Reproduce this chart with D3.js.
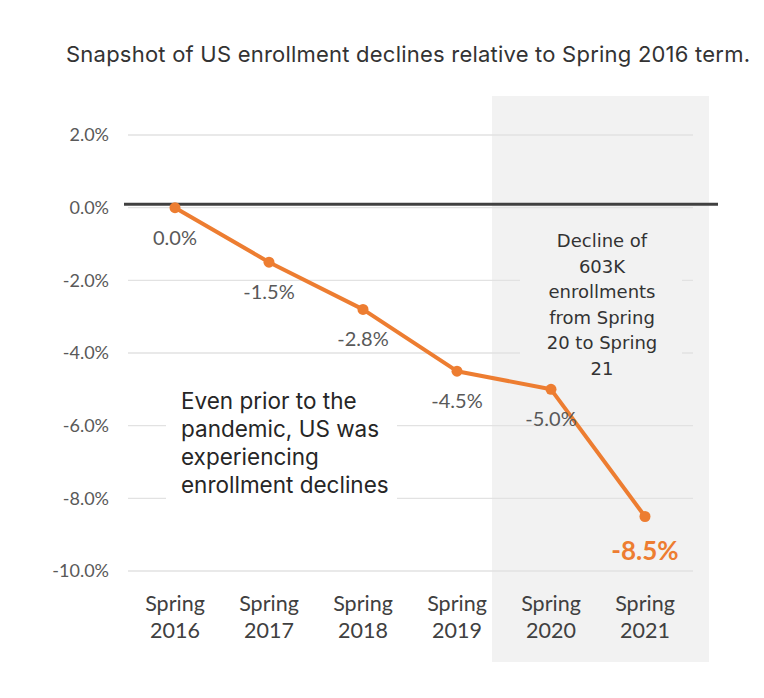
<!DOCTYPE html>
<html>
<head>
<meta charset="utf-8">
<script src="https://cdn.jsdelivr.net/npm/d3@7"></script>
<style>
  body { margin: 0; background: #fff; }
  svg { display: block; }
</style>
</head>
<body>
<svg id="chart"></svg>
<script>
const categories = ['Spring 2016', 'Spring 2017', 'Spring 2018', 'Spring 2019', 'Spring 2020', 'Spring 2021'];
const values = [0.0, -1.5, -2.8, -4.5, -5.0, -8.5];
const yTicks = [2, 0, -2, -4, -6, -8, -10];
const title = 'Snapshot of US enrollment declines relative to Spring 2016 term.';
const noteLeft = ['Even prior to the', 'pandemic, US was', 'experiencing', 'enrollment declines'];
const noteRight = ['Decline of', '603K', 'enrollments', 'from Spring', '20 to Spring', '21'];

const width = 764;
const height = 698;
const orange = '#ED7D31';

const svg = d3.select('#chart').attr('width', width).attr('height', height);

const x = d3.scalePoint().domain(categories).range([175, 645]);
const y = d3.scaleLinear().domain([-10, 2]).range([571, 135]);

// shaded pandemic area
svg.append('rect')
  .attr('x', x('Spring 2020') - 59)
  .attr('y', 96)
  .attr('width', x('Spring 2021') - x('Spring 2020') + 123)
  .attr('height', 566)
  .attr('fill', '#f2f2f2');

// gridlines
svg.append('g')
  .selectAll('line')
  .data(yTicks)
  .enter()
  .append('line')
  .attr('x1', 128)
  .attr('x2', 693)
  .attr('y1', (d) => y(d))
  .attr('y2', (d) => y(d))
  .attr('stroke', '#e2e2e2')
  .attr('stroke-width', 1.3);

// y tick labels
svg.append('g')
  .selectAll('text')
  .data(yTicks)
  .enter()
  .append('text')
  .attr('x', 109)
  .attr('y', (d) => y(d))
  .attr('dy', '0.35em')
  .attr('text-anchor', 'end')
  .style('font-family', 'Lato, "Open Sans", sans-serif')
  .style('font-size', '18px')
  .style('fill', '#595959')
  .text((d) => d.toFixed(1) + '%');

// note boxes (cover gridlines)
svg.append('rect')
  .attr('x', 166).attr('y', 385).attr('width', 231).attr('height', 115)
  .attr('fill', '#fff');
svg.append('rect')
  .attr('x', 520).attr('y', 225).attr('width', 162).attr('height', 156)
  .attr('fill', '#f2f2f2');

// zero reference line
svg.append('line')
  .attr('x1', 124)
  .attr('x2', 718)
  .attr('y1', y(0) - 3.5)
  .attr('y2', y(0) - 3.5)
  .attr('stroke', '#404040')
  .attr('stroke-width', 3);

// line + markers
const line = d3.line()
  .x((d, i) => x(categories[i]))
  .y((d) => y(d));

svg.append('path')
  .datum(values)
  .attr('d', line)
  .attr('fill', 'none')
  .attr('stroke', orange)
  .attr('stroke-width', 4)
  .attr('stroke-linejoin', 'round');

svg.append('g')
  .selectAll('circle')
  .data(values)
  .enter()
  .append('circle')
  .attr('cx', (d, i) => x(categories[i]))
  .attr('cy', (d) => y(d))
  .attr('r', 5.5)
  .attr('fill', orange);

// data labels
const last = values.length - 1;
svg.append('g')
  .selectAll('text')
  .data(values)
  .enter()
  .append('text')
  .attr('x', (d, i) => x(categories[i]))
  .attr('y', (d, i) => y(d) + (i === last ? 34 : 30))
  .attr('dy', '0.35em')
  .attr('text-anchor', 'middle')
  .style('font-family', 'Lato, "Open Sans", sans-serif')
  .style('font-size', (d, i) => (i === last ? '26px' : '20px'))
  .style('font-weight', (d, i) => (i === last ? 'bold' : 'normal'))
  .style('fill', (d, i) => (i === last ? orange : '#595959'))
  .text((d) => d.toFixed(1) + '%');

// x axis labels
const xl = svg.append('g')
  .selectAll('text')
  .data(categories)
  .enter()
  .append('text')
  .attr('text-anchor', 'middle')
  .style('font-family', 'Lato, "Open Sans", sans-serif')
  .style('font-size', '21.5px')
  .style('fill', '#404040');
xl.append('tspan')
  .attr('x', (d) => x(d))
  .attr('y', 611)
  .text((d) => d.split(' ')[0]);
xl.append('tspan')
  .attr('x', (d) => x(d))
  .attr('y', 638)
  .text((d) => d.split(' ')[1]);

// title
svg.append('text')
  .attr('x', 66)
  .attr('y', 62)
  .attr('textLength', 684)
  .style('font-family', 'Inter, Roboto, sans-serif')
  .style('font-size', '22px')
  .style('fill', '#333')
  .text(title);

// left note
svg.append('g')
  .selectAll('text')
  .data(noteLeft)
  .enter()
  .append('text')
  .attr('x', 181)
  .attr('y', (d, i) => 409 + i * 28)
  .style('font-family', 'Inter, Roboto, sans-serif')
  .style('font-size', '22.5px')
  .style('fill', '#262626')
  .text((d) => d);

// right note
svg.append('g')
  .selectAll('text')
  .data(noteRight)
  .enter()
  .append('text')
  .attr('x', 602)
  .attr('y', (d, i) => 247 + i * 25.6)
  .attr('text-anchor', 'middle')
  .style('font-family', '"DejaVu Sans", Verdana, sans-serif')
  .style('font-size', '18px')
  .style('fill', '#333')
  .text((d) => d);
</script>
</body>
</html>
